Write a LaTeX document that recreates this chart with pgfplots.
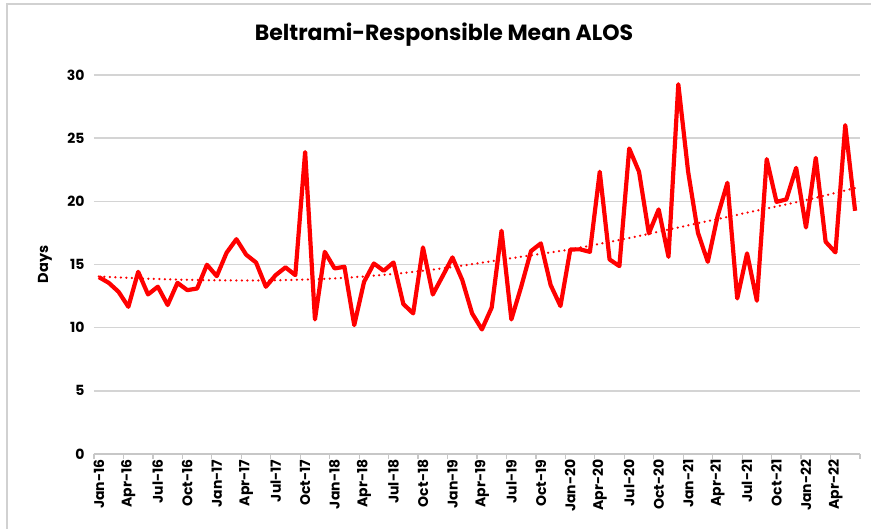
\documentclass[border=0pt]{standalone}
\usepackage{fontspec}
\setmainfont{Poppins}
\usepackage{pgfplots}
\pgfplotsset{compat=1.18}
\begin{document}
\begin{tikzpicture}
\useasboundingbox (0,0) rectangle (871pt,529pt);
\draw[black!18, line width=1.5pt] (7pt,0) -- (7pt,525pt) -- (871pt,525pt);
\node[font=\bfseries\fontsize{22}{26}\selectfont] at (444pt,494pt) {Beltrami-Responsible Mean ALOS};
\begin{axis}[
    at={(94pt,75pt)}, anchor=south west,
    scale only axis, width=766pt, height=379pt,
    xmin=-0.5, xmax=77.5, ymin=0, ymax=30,
    ytick={0,5,...,30},
    xtick={0,3,...,75},
    xticklabels={Jan-16,Apr-16,Jul-16,Oct-16,Jan-17,Apr-17,Jul-17,Oct-17,Jan-18,Apr-18,Jul-18,Oct-18,Jan-19,Apr-19,Jul-19,Oct-19,Jan-20,Apr-20,Jul-20,Oct-20,Jan-21,Apr-21,Jul-21,Oct-21,Jan-22,Apr-22},
    minor xtick={-0.5,2.5,...,77.5},
    major tick length=0pt, minor tick length=5pt,
    tick align=outside,
    minor tick style={black!22, line width=1.2pt},
    axis lines*=left,
    y axis line style={draw=none},
    x axis line style={black!22, line width=1.2pt},
    ymajorgrids, grid style={black!17, line width=1.4pt},
    /pgf/number format/assume math mode=true,
    ticklabel style={font=\bfseries\fontsize{14}{16}\selectfont},
    xticklabel style={rotate=90, anchor=east, xshift=-2pt},
    yticklabel style={xshift=-6pt},
    ylabel={Days},
    ylabel style={font=\bfseries\fontsize{14.5}{16}\selectfont, at={(axis description cs:-0.064,0.5)}, anchor=center},
    clip=false,
]
\addplot[red, line width=4.2pt, line join=round, mark=none] coordinates {
(0,14.0)(1,13.55)(2,12.84)(3,11.65)(4,14.42)(5,12.63)(6,13.24)(7,11.79)(8,13.55)(9,12.97)
(10,13.1)(11,14.98)(12,14.08)(13,15.93)(14,17.0)(15,15.77)(16,15.16)(17,13.24)(18,14.16)(19,14.77)
(20,14.16)(21,23.9)(22,10.65)(23,16.0)(24,14.69)(25,14.82)(26,10.2)(27,13.63)(28,15.08)(29,14.5)
(30,15.16)(31,11.87)(32,11.13)(33,16.35)(34,12.63)(35,14.08)(36,15.56)(37,13.77)(38,11.13)(39,9.86)
(40,11.6)(41,17.67)(42,10.65)(43,13.24)(44,16.06)(45,16.67)(46,13.37)(47,11.71)(48,16.19)(49,16.2)
(50,16.0)(51,22.34)(52,15.4)(53,14.87)(54,24.18)(55,22.34)(56,17.46)(57,19.36)(58,15.61)(59,29.27)
(60,22.34)(61,17.51)(62,15.21)(63,18.83)(64,21.47)(65,12.31)(66,15.88)(67,12.13)(68,23.34)(69,19.96)
(70,20.15)(71,22.65)(72,17.93)(73,23.44)(74,16.8)(75,15.96)(76,26.03)(77,19.25)
};
\addplot[red, line width=2.5pt, line cap=round, dash pattern=on 0pt off 5.5pt, smooth, mark=none] coordinates {
(0,14.05)(6,13.85)(12,13.75)(18,13.75)(24,13.9)(30,14.25)(36,14.8)(42,15.5)(48,16.2)(54,17.1)(60,18.1)(66,19.1)(72,20.1)(77,21.05)
};
\end{axis}
\end{tikzpicture}
\end{document}
